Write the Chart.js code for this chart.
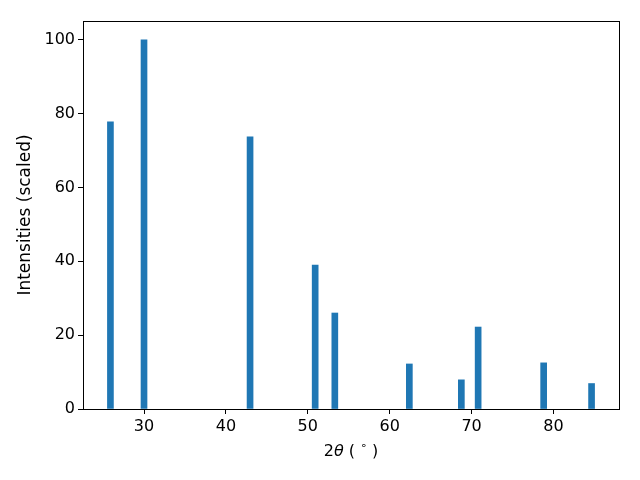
<!DOCTYPE html>
<html>
<head>
<meta charset="utf-8">
<script src="https://cdn.jsdelivr.net/npm/chart.js@4/dist/chart.umd.min.js"></script>
<style>
  html, body { margin: 0; padding: 0; background: #fff; }
  #grafico { display: block; }
</style>
</head>
<body>
<canvas id="grafico" width="640" height="480"></canvas>
<script>
// ------------------------------------------------ DATOS ------------------------------------------------

    const posiciones = [25.9, 30.0, 42.95, 50.9, 53.3, 62.4, 68.75, 70.8, 78.8, 84.65];
    const intensidades = [77.8, 100, 73.7, 39.0, 26.0, 12.2, 7.9, 22.2, 12.5, 6.9];
    const ticksX = [30, 40, 50, 60, 70, 80];
    const ticksY = [0, 20, 40, 60, 80, 100];

    const familia = "'DejaVu Sans', sans-serif";
    const fuente = { family: familia, size: 16 };

// ------------------------------------------------ MARCO Y TITULO X ------------------------------------------------

    const marco = {
        id: 'marco',
        afterDraw(chart) {
            const a = chart.chartArea;
            const ctx = chart.ctx;
            ctx.save();
            ctx.strokeStyle = '#000';
            ctx.lineWidth = 1;
            ctx.strokeRect(Math.round(a.left) + 0.5, Math.round(a.top) + 0.5,
                Math.round(a.right - a.left), Math.round(a.bottom - a.top));

            // 2θ (°) con theta en cursiva y grado como superindice
            const partes = [
                { t: '2', f: '16px ' + familia, dy: 0 },
                { t: 'θ', f: 'italic 16px ' + familia, dy: 0 },
                { t: ' ( ', f: '16px ' + familia, dy: 0 },
                { t: '∘', f: '11px ' + familia, dy: -6 },
                { t: ' )', f: '16px ' + familia, dy: 0 }
            ];
            let total = 0;
            partes.forEach(p => { ctx.font = p.f; p.w = ctx.measureText(p.t).width; total += p.w; });
            let x = (a.left + a.right) / 2 - total / 2;
            const y = 452;
            ctx.fillStyle = '#000';
            ctx.textBaseline = 'middle';
            ctx.textAlign = 'left';
            partes.forEach(p => { ctx.font = p.f; ctx.fillText(p.t, x, y + p.dy); x += p.w; });
            ctx.restore();
        }
    };

// ------------------------------------------------ GRAFICO ------------------------------------------------

    const config = {
        type: 'bar',
        data: {
            datasets: [{
                data: posiciones.map((x, i) => ({ x: x, y: intensidades[i] })),
                backgroundColor: '#1f77b4',
                borderWidth: 0,
                barThickness: 6
            }]
        },
        options: {
            responsive: false,
            animation: false,
            layout: { padding: { top: 21, right: 21, left: 0, bottom: 0 } },
            plugins: {
                legend: { display: false },
                tooltip: { enabled: false }
            },
            scales: {
                x: {
                    type: 'linear',
                    offset: false,
                    min: 22.55,
                    max: 88.0,
                    afterBuildTicks: s => { s.ticks = ticksX.map(v => ({ value: v })); },
                    afterFit: s => { s.height = 71; },
                    grid: { display: true, offset: false, drawOnChartArea: false, tickLength: 5, color: '#000' },
                    border: { display: true, color: '#000' },
                    ticks: { color: '#000', font: fuente, padding: 3, maxRotation: 0 },
                    title: { display: false }
                },
                y: {
                    min: 0,
                    max: 105.1,
                    afterBuildTicks: s => { s.ticks = ticksY.map(v => ({ value: v })); },
                    afterFit: s => { s.width = 83; },
                    grid: { display: true, drawOnChartArea: false, tickLength: 5, color: '#000' },
                    border: { display: true, color: '#000' },
                    ticks: { color: '#000', font: fuente, padding: 3 },
                    title: { display: true, text: 'Intensities (scaled)', color: '#000',
                        font: { family: familia, size: 17 }, padding: { top: 15, bottom: 0 } }
                }
            }
        },
        plugins: [marco]
    };

    var graficoDifraccion = new Chart(document.getElementById('grafico'), config);
</script>
</body>
</html>
